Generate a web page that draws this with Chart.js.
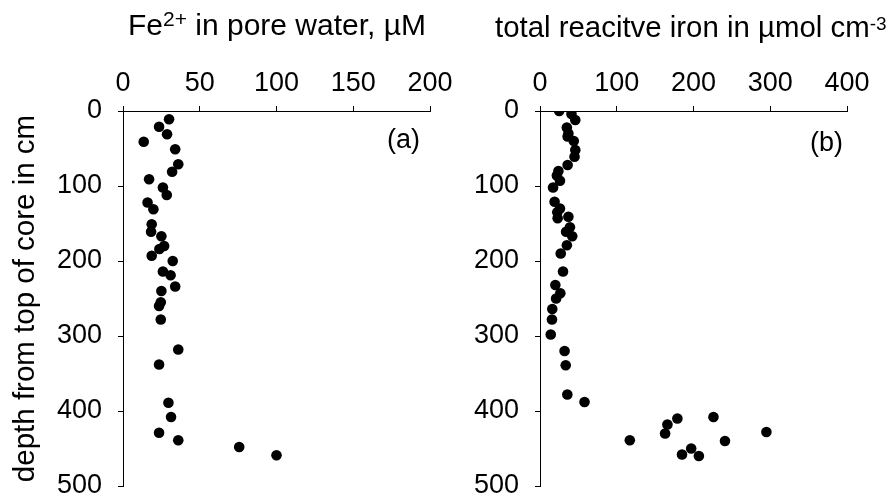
<!DOCTYPE html>
<html>
<head>
<meta charset="utf-8">
<script src="https://cdn.jsdelivr.net/npm/chart.js@4.4.1/dist/chart.umd.min.js"></script>
<style>
  body { margin: 0; background: #fff; }
  #wrap { position: relative; width: 894px; height: 499px; overflow: hidden; font-family: 'Liberation Sans', Arial, sans-serif; color: #000; }
  #wrap canvas { position: absolute; left: 0; top: 0; }
  .lbl { position: absolute; white-space: nowrap; line-height: 1; }
  .sup { position: relative; font-size: 21px; }
</style>
</head>
<body>
<div id="wrap">
  <canvas id="chartA" width="894" height="499"></canvas>
  <canvas id="chartB" width="894" height="499"></canvas>
  <div class="lbl" style="left:128px; top:10px; font-size:30px;">Fe<span class="sup" style="top:-9px;">2+</span> in pore water, µM</div>
  <div class="lbl" style="left:495px; top:12px; font-size:29.4px;">total reacitve iron in µmol cm<span class="sup" style="top:-7px; font-size:19px;">-3</span></div>
  <div class="lbl" style="left:387px; top:126px; font-size:27px;">(a)</div>
  <div class="lbl" style="left:810px; top:129px; font-size:27px;">(b)</div>
</div>
<script>
/* ------------------------------------------------ */

// (a) dissolved Fe2+ in pore water, µM
let depthA = [11, 21, 31, 41, 51, 71, 81, 91, 102, 112, 122, 131, 151, 161, 167, 180, 184, 193,
  200, 214, 219, 234, 240, 255, 260, 278, 318, 338, 389, 408, 429, 439, 448, 459];
let fe2 = [30, 23.5, 28.7, 13.5, 34, 36, 32, 17, 26, 28.5, 16, 19.8, 18.7, 18.3, 25, 26.8, 23.7, 18.7,
  32.4, 26, 31, 34, 25, 24.6, 23.5, 24.6, 36, 23.5, 29.6, 31.3, 23.5, 36, 75.7, 100];

// (b) total reactive iron, µmol cm-3
let depthB = [0, 4, 12, 22, 30, 34, 40, 52, 61, 72, 80, 86, 93, 102, 121, 130, 135, 143, 141, 155,
  161, 167, 179, 190, 214, 232, 243, 250, 264, 278, 298, 320, 339, 378, 388,
  439, 430, 418, 410, 408, 428, 440, 450, 458, 460];
let feReactive = [25, 41, 46, 35, 37, 36, 44, 46, 45, 36, 24, 22, 26, 17, 19, 26, 22.5, 23, 37, 39,
  34, 42, 35, 27, 30, 20, 26.5, 21, 16, 15.6, 14, 32, 33.5, 35.6, 58,
  117, 163, 166, 179, 226, 295, 241, 197, 185, 207];

let depthTicks = [0, 100, 200, 300, 400, 500];

/* ------------------------------------------------ */

const FONT = 'Liberation Sans';

function toPoints(xs, ys) {
  return xs.map((x, i) => ({ x: x, y: ys[i] }));
}

function fixHeight(h) {
  return (scale) => {
    scale.height = h;
    scale.paddingLeft = 0; scale.paddingRight = 0;
    scale.paddingTop = 0; scale.paddingBottom = 0;
  };
}

function fixWidth(w) {
  return (scale) => {
    scale.width = w;
    scale.paddingLeft = 0; scale.paddingRight = 0;
    scale.paddingTop = 0; scale.paddingBottom = 0;
  };
}

function makePanel(id, values, depths, xMax, xStep, yAxisWidth, rightPad, showTitle) {
  let ctx = document.getElementById(id).getContext('2d');
  let config = {
    type: 'scatter',
    data: {
      datasets: [{
        data: toPoints(values, depths),
        pointRadius: 5.3,
        pointBorderWidth: 0,
        pointBackgroundColor: '#000',
        pointBorderColor: '#000',
      }],
    },
    options: {
      responsive: false,
      animation: false,
      events: [],
      layout: { padding: { left: 0, top: 0, right: rightPad, bottom: 13 } },
      plugins: { legend: { display: false }, tooltip: { enabled: false } },
      scales: {
        x: {
          type: 'linear',
          position: 'top',
          min: 0,
          max: xMax,
          afterFit: fixHeight(111),
          ticks: { stepSize: xStep, color: '#000', padding: 6, font: { family: FONT, size: 27 } },
          grid: { drawOnChartArea: false, tickLength: 5, color: '#000', lineWidth: 1 },
          border: { color: '#000', width: 1 },
        },
        y: {
          type: 'linear',
          position: 'left',
          reverse: true,
          min: 0,
          max: 500,
          afterFit: fixWidth(yAxisWidth),
          afterBuildTicks: (scale) => { scale.ticks = depthTicks.map((v) => ({ value: v })); },
          ticks: { color: '#000', padding: 16, font: { family: FONT, size: 27 } },
          grid: { drawOnChartArea: false, tickLength: 5, color: '#000', lineWidth: 1 },
          border: { color: '#000', width: 1 },
          title: {
            display: showTitle,
            text: 'depth from top of core in cm',
            color: '#000',
            font: { family: FONT, size: 29.5 },
            padding: { top: 8, bottom: 0 },
          },
        },
      },
    },
  };
  return new Chart(ctx, config);
}

/* ------------------------------------------------ */

makePanel('chartA', fe2, depthA, 200, 50, 123, 894 - 430, true);
makePanel('chartB', feReactive, depthB, 400, 100, 540, 894 - 847, false);
</script>
</body>
</html>
